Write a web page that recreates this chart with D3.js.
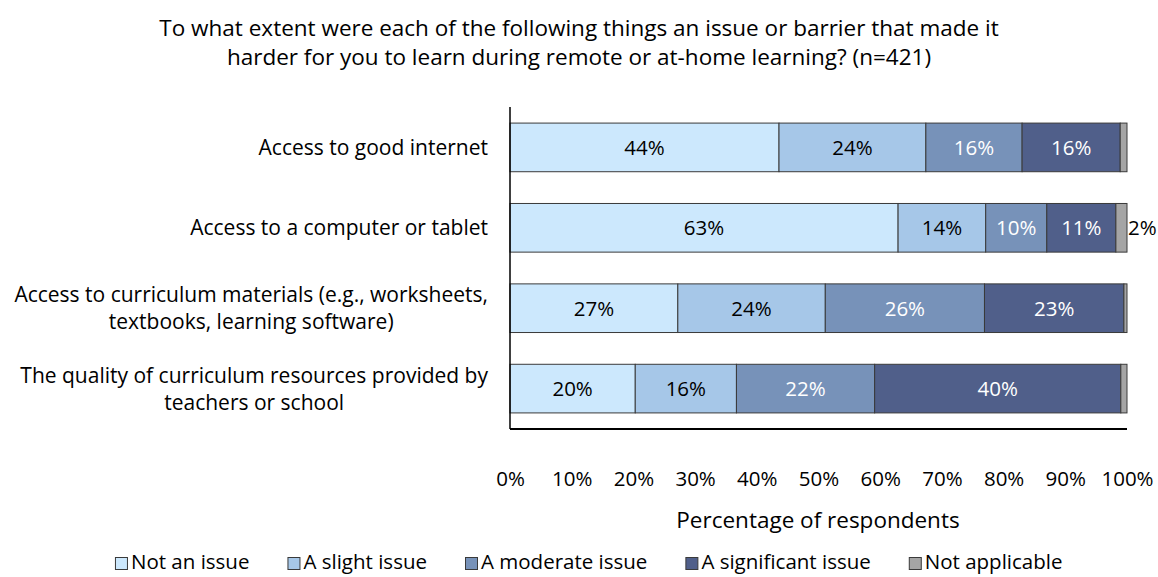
<!DOCTYPE html>
<html>
<head>
<meta charset="utf-8">
<script src="https://cdn.jsdelivr.net/npm/d3@7"></script>
<style>
  html, body { margin: 0; padding: 0; background: #fff; }
  svg { display: block; }
  text { font-family: "Open Sans", Lato, sans-serif; fill: #000; }
</style>
</head>
<body>
<svg id="chart" width="1158" height="577"></svg>
<script>
// Survey items (one bar per item)
const categories = [
  "Access to good internet",
  "Access to a computer or tablet",
  "Access to curriculum materials (e.g., worksheets,\ntextbooks, learning software)",
  "The quality of curriculum resources provided by\nteachers or school"
];

// Response levels, in stacking order
const seriesNames = ["Not an issue", "A slight issue", "A moderate issue", "A significant issue", "Not applicable"];
const seriesColors = ["#cce8fd", "#a6c7e8", "#7792b9", "#505f8a", "#a5a5a5"];
const labelColors = ["#000", "#000", "#fff", "#fff", "#000"];

// Percent of respondents, one array per response level (same order as categories)
const notAnIssue      = [43.6, 62.9, 27.2, 20.3];
const slightIssue     = [23.8, 14.2, 23.9, 16.4];
const moderateIssue   = [15.6,  9.9, 25.8, 22.4];
const significantIssue= [15.9, 11.2, 22.6, 39.9];
const notApplicable   = [ 1.1,  1.8,  0.5,  1.0];

const tickValues = [0, 10, 20, 30, 40, 50, 60, 70, 80, 90, 100];

const titleLines = [
  "To what extent were each of the following things an issue or barrier that made it",
  "harder for you to learn during remote or at-home learning? (n=421)"
];
const xAxisTitle = "Percentage of respondents";

const seriesValues = [notAnIssue, slightIssue, moderateIssue, significantIssue, notApplicable];

const labelSize = "20.5px";
const catSize = "21px";
const titleSize = "22.5px";

const svg = d3.select("#chart");

const x = d3.scaleLinear().domain([0, 100]).range([510, 1127]);
const y = d3.scaleBand().domain(categories).range([107, 429])
  .paddingInner(0.395).paddingOuter(0.2);

// Title
svg.append("g").selectAll("text").data(titleLines).join("text")
  .attr("x", 579).attr("y", (d, i) => 36 + i * 29)
  .attr("text-anchor", "middle")
  .style("font-size", titleSize)
  .text(d => d);

// Build stacked rows
const rows = categories.map((c, i) => {
  let acc = 0;
  return seriesNames.map((s, k) => {
    const v = seriesValues[k][i];
    const seg = { cat: c, k, v, x0: acc, x1: acc + v };
    acc += v;
    return seg;
  });
});

const barG = svg.append("g");
rows.forEach(row => {
  const g = barG.append("g");
  g.selectAll("rect").data(row).join("rect")
    .attr("x", d => x(d.x0))
    .attr("y", d => y(d.cat))
    .attr("width", d => x(d.x1) - x(d.x0))
    .attr("height", y.bandwidth())
    .attr("fill", d => seriesColors[d.k])
    .attr("stroke", "#3a3a3a")
    .attr("stroke-width", 1);

  // Value labels: inside for the four issue levels, outside for a visible "Not applicable" share
  g.selectAll("text").data(row.filter(d => d.k < 4 || d.v >= 1.5)).join("text")
    .attr("x", d => d.k < 4 ? x((d.x0 + d.x1) / 2) : x(d.x1) + 1)
    .attr("y", d => y(d.cat) + y.bandwidth() / 2)
    .attr("dy", "0.36em")
    .attr("text-anchor", d => d.k < 4 ? "middle" : "start")
    .style("font-size", labelSize)
    .style("fill", d => d.k < 4 ? labelColors[d.k] : "#000")
    .text(d => Math.round(d.v) + "%");
});

// Category labels: multi-line labels are centred within their block, block right-aligned
const catG = svg.append("g");
categories.forEach(c => {
  const lines = c.split("\n");
  const cy = y(c) + y.bandwidth() / 2;
  const t = catG.append("text")
    .style("font-size", catSize)
    .attr("text-anchor", "middle");
  const spans = lines.map((l, i) => t.append("tspan").text(l));
  const widths = spans.map(s => s.node().getComputedTextLength());
  const maxW = d3.max(widths);
  const cx = 488 - maxW / 2;
  const lh = 27;
  spans.forEach((s, i) => {
    s.attr("x", cx).attr("y", cy + (i - (lines.length - 1) / 2) * lh).attr("dy", "0.36em");
  });
});

// Axes lines
svg.append("line").attr("x1", x(0)).attr("x2", x(0)).attr("y1", 107).attr("y2", 429)
  .attr("stroke", "#000").attr("stroke-width", 1.5);
svg.append("line").attr("x1", x(0)).attr("x2", x(100)).attr("y1", 429).attr("y2", 429)
  .attr("stroke", "#000").attr("stroke-width", 2);

// X tick labels
const xAxis = d3.axisBottom(x).tickValues(tickValues).tickSize(0).tickPadding(0)
  .tickFormat(d => d + "%");
const axG = svg.append("g").attr("transform", "translate(0,471)").call(xAxis);
axG.select(".domain").remove();
axG.selectAll("text").style("font-size", labelSize).style("font-family", "'Open Sans', sans-serif").attr("fill", "#000");

// X axis title
svg.append("text").attr("x", 818).attr("y", 528).attr("text-anchor", "middle")
  .style("font-size", titleSize).text(xAxisTitle);

// Legend: swatch + label, laid out left to right with a fixed gap
const legG = svg.append("g").attr("transform", "translate(0,569)");
const sw = 12, txtGap = 4, itemGap = 38;
let cursor = 0;
const legItems = seriesNames.map((s, k) => {
  const g = legG.append("g");
  g.append("rect").attr("x", 0.5).attr("y", -sw + 0.5).attr("width", sw).attr("height", sw)
    .attr("fill", seriesColors[k]).attr("stroke", "#3a3a3a").attr("stroke-width", 1);
  const t = g.append("text").attr("x", sw + txtGap).attr("y", 0).style("font-size", labelSize).text(s);
  const w = sw + txtGap + t.node().getComputedTextLength();
  const item = { g, x: cursor };
  cursor += w + itemGap;
  return item;
});
// place the row so the third swatch sits at x = 465
const shift = 465 - legItems[2].x;
legItems.forEach(it => it.g.attr("transform", `translate(${it.x + shift},0)`));
</script>
</body>
</html>
